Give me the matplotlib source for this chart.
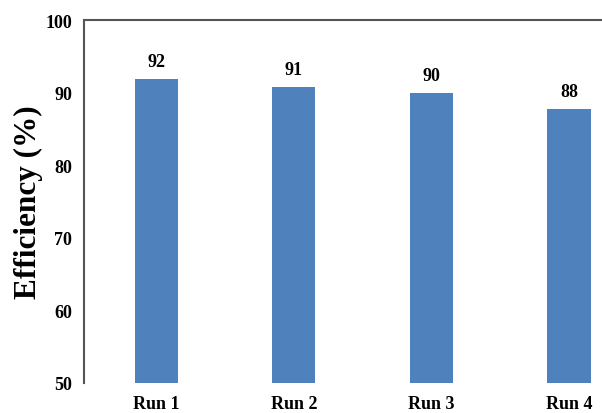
import matplotlib
matplotlib.use("Agg")
import matplotlib.pyplot as plt

runs = ["Run 1", "Run 2", "Run 3", "Run 4"]
efficiency = [91.9, 90.8, 89.9, 87.7]
yticks = [50, 60, 70, 80, 90, 100]

plt.rcParams["font.family"] = ["Liberation Serif", "DejaVu Serif"]
plt.rcParams["font.weight"] = "bold"

fig = plt.figure(figsize=(6.02, 4.14), dpi=100)
ax = fig.add_axes([84 / 602, 30 / 414, 553.75 / 602, 363 / 414])

x = range(len(runs))
ax.bar(x, efficiency, width=0.313, color="#4F81BD")

for xi, v in zip(x, efficiency):
    ax.annotate(f"{v:.0f}", (xi, v), xytext=(0, 6.5), textcoords="offset points",
                ha="center", va="bottom", fontsize=13, fontweight="bold")

ax.set_ylim(50, 100)
ax.set_xlim(-0.527, 3.5)
ax.set_yticks(yticks)
ax.set_xticks(list(x))
ax.set_xticklabels(runs)
ax.tick_params(axis="both", length=0, labelsize=13)
ax.tick_params(axis="y", pad=8.5)
ax.tick_params(axis="x", pad=8.5)
for lab in ax.get_xticklabels() + ax.get_yticklabels():
    lab.set_fontweight("bold")

ax.set_ylabel("Efficiency (%)", fontsize=22.5, fontweight="bold")
ax.yaxis.set_label_coords(-0.074, 0.5)

for side in ["bottom", "right"]:
    ax.spines[side].set_visible(False)
for side in ["top", "left"]:
    ax.spines[side].set_color("#555555")
    ax.spines[side].set_linewidth(1.5)

fig.savefig("out.png", dpi=100)
